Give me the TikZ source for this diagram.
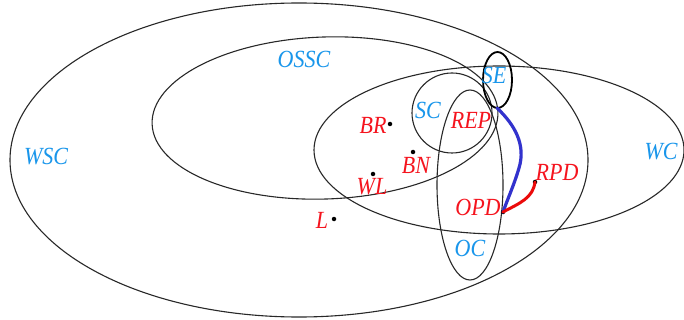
\documentclass[tikz,border=0pt]{standalone}
\usepackage{fontspec}
\setmainfont{Liberation Serif}
\definecolor{lblue}{RGB}{25,150,235}
\definecolor{lred}{RGB}{245,20,30}
\definecolor{pathblue}{RGB}{50,50,205}
\definecolor{pathred}{RGB}{235,10,10}
\definecolor{setline}{RGB}{40,40,40}
\tikzset{
  setcurve/.style={draw=setline, line width=1.1pt},
  selabel/.style={text=lblue, font=\itshape\fontsize{22}{22}\selectfont, inner sep=0pt, yscale=1.12, transform shape},
  ptlabel/.style={text=lred, font=\itshape\fontsize{22}{22}\selectfont, inner sep=0pt, yscale=1.12, transform shape},
  ptdot/.style={circle, fill=black, inner sep=0pt, minimum size=4.5pt},
}
\begin{document}
\begin{tikzpicture}[x=1pt,y=-1pt]
\useasboundingbox (0,0) rectangle (684,320);
\fill[white] (0,0) rectangle (684,320);
% sets
\draw[setcurve] (299,160) ellipse [x radius=289, y radius=157];
\draw[setcurve, rotate around={2:(325,118)}] (325,118) ellipse [x radius=173, y radius=81];
\draw[setcurve] (499,150) ellipse [x radius=185, y radius=84];
\draw[setcurve] (452,113) circle [radius=40];
\draw[setcurve] (470,185) ellipse [x radius=33, y radius=95];
\draw[draw=black, line width=1.8pt] (497.5,80) ellipse [x radius=14.5, y radius=28];
% set labels
\node[selabel] (ossc) at (304,59) {OSSC};
\node[selabel] (wsc) at (46,157) {WSC};
\node[selabel] (wc) at (661,152) {WC};
\node[selabel] (sc) at (428,110) {SC};
\node[selabel] (se) at (494,75) {SE};
\node[selabel] (oc) at (470,248) {OC};
% points
\coordinate (P) at (497,108);
\node[ptdot] (brd) at (390,124) {};
\node[ptdot] (bnd) at (413,152) {};
\node[ptdot] (wld) at (373,174) {};
\node[ptdot] (ld) at (334,219) {};
\node[ptdot] (opdd) at (503,212) {};
\node[ptdot] (rpdd) at (535,182) {};
\node[ptlabel] (br) at (373,125) {BR};
\node[ptlabel] (bn) at (416,165) {BN};
\node[ptlabel] (wl) at (372,187) {WL};
\node[ptlabel] (l) at (322,220) {L};
\node[ptlabel] (rep) at (471,120) {REP};
\node[ptlabel] (rpd) at (557,172) {RPD};
\node[ptlabel] (opd) at (478,207) {OPD};
% paths
\draw[pathblue, line width=3.2pt, line cap=round] (P) .. controls (515,125) and (526,145) .. (519,168) .. controls (514,185) and (508,198) .. (opdd.center);
\draw[pathred, line width=3pt, line cap=round] (opdd.center) .. controls (520,203) and (533,198) .. (rpdd.center);
\end{tikzpicture}
\end{document}
